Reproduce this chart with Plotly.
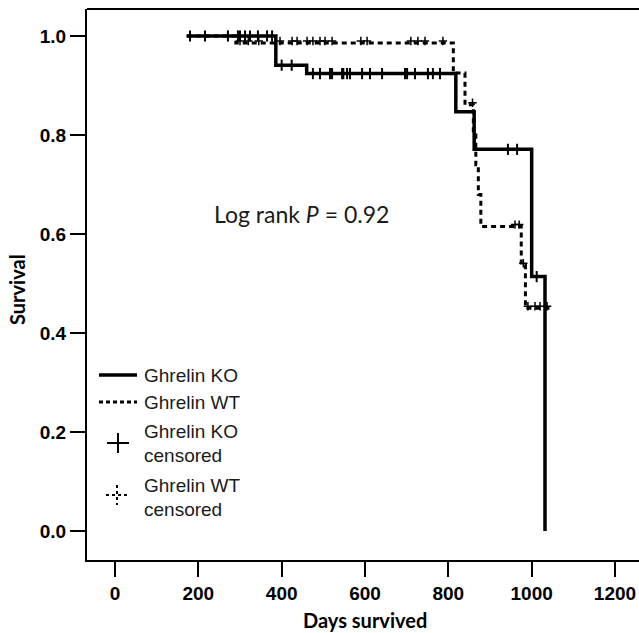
import numpy as np
import plotly.graph_objects as go

# ---------------- data ----------------
ko_times = [172, 386, 460, 818, 862, 1000, 1032]
ko_surv = [1.0, 0.941, 0.924, 0.847, 0.771, 0.514, 0.0]

wt_times = [172, 290, 812, 840, 860, 866, 872, 878, 975, 985, 1044]
wt_surv = [1.0, 0.986, 0.925, 0.861, 0.80, 0.74, 0.68, 0.615, 0.537, 0.45, 0.45]

ko_censor = [180, 216, 271, 295, 300, 312, 324, 343, 365, 377,
             400, 424,
             475, 492, 516, 521, 545, 548, 557, 564, 593, 612, 641, 696, 701, 720, 751, 763, 780,
             943, 965, 1012]
wt_censor = [300, 320, 345, 396, 425, 437, 461, 475, 492, 504, 521, 590, 605, 710, 727, 744, 787,
             858, 960, 970, 980, 991, 1008, 1020, 1037]

x_ticks = [0, 200, 400, 600, 800, 1000, 1200]
y_ticks = [0.0, 0.2, 0.4, 0.6, 0.8, 1.0]
y_tick_labels = ["0.0", "0.2", "0.4", "0.6", "0.8", "1.0"]


def step_value(times, surv, t):
    i = np.searchsorted(np.asarray(times), t, side="right") - 1
    return surv[max(i, 0)]


ko_cy = [step_value(ko_times, ko_surv, t) for t in ko_censor]
wt_cy = [step_value(wt_times, wt_surv, t) for t in wt_censor]

# ---------------- layout geometry (pixels) ----------------
W, H = 639, 633
ML, MR, MT, MB = 87, 0, 9, 73
PW, PH = W - ML - MR, H - MT - MB


def px(xp):
    return (xp - ML) / PW


def py(yp):
    return (H - MB - yp) / PH


fig = go.Figure()

fig.add_trace(go.Scatter(x=wt_times, y=wt_surv, mode="lines", line_shape="hv",
                         line=dict(color="black", width=3, dash="5px,4px"),
                         showlegend=False, hoverinfo="skip"))
fig.add_trace(go.Scatter(x=ko_times, y=ko_surv, mode="lines", line_shape="hv",
                         line=dict(color="black", width=3.5),
                         showlegend=False, hoverinfo="skip"))
fig.add_trace(go.Scatter(x=ko_censor, y=ko_cy, mode="markers",
                         marker=dict(symbol="line-ns", size=8, color="black",
                                     line=dict(color="black", width=2)),
                         showlegend=False, hoverinfo="skip"))
fig.add_trace(go.Scatter(x=wt_censor, y=[v + 0.004 for v in wt_cy], mode="markers",
                         marker=dict(symbol="cross-thin", size=6, color="black",
                                     line=dict(color="black", width=1.5)),
                         showlegend=False, hoverinfo="skip"))

shapes = []
# top border of box
shapes.append(dict(type="line", xref="paper", yref="paper", x0=0, x1=1.01, y0=1, y1=1,
                   line=dict(color="black", width=2)))
# legend samples
shapes.append(dict(type="line", xref="paper", yref="paper", x0=px(99), x1=px(137),
                   y0=py(375), y1=py(375), line=dict(color="black", width=3.5)))
shapes.append(dict(type="line", xref="paper", yref="paper", x0=px(99), x1=px(137),
                   y0=py(402), y1=py(402), line=dict(color="black", width=3, dash="4px,3px")))
shapes.append(dict(type="line", xref="paper", yref="paper", x0=px(107), x1=px(129),
                   y0=py(443), y1=py(443), line=dict(color="black", width=2)))
shapes.append(dict(type="line", xref="paper", yref="paper", x0=px(118), x1=px(118),
                   y0=py(433), y1=py(453), line=dict(color="black", width=2)))
shapes.append(dict(type="line", xref="paper", yref="paper", x0=px(106), x1=px(128),
                   y0=py(495), y1=py(495), line=dict(color="black", width=2, dash="3px,3px")))
shapes.append(dict(type="line", xref="paper", yref="paper", x0=px(117), x1=px(117),
                   y0=py(485), y1=py(505), line=dict(color="black", width=2, dash="3px,3px")))

leg_font = dict(family="Liberation Sans, Arial", size=19, color="#1a1a1a")
annotations = []
for text, yp in [("Ghrelin KO", 375), ("Ghrelin WT", 402), ("Ghrelin KO", 431),
                 ("censored", 455), ("Ghrelin WT", 485), ("censored", 509)]:
    annotations.append(dict(text=text, xref="paper", yref="paper", x=px(142), y=py(yp),
                            xanchor="left", yanchor="middle", showarrow=False, font=leg_font))

annotations.append(dict(text="Log rank <i>P</i> = 0.92", xref="paper", yref="paper",
                        x=px(301), y=py(214), xanchor="center", yanchor="middle",
                        showarrow=False,
                        font=dict(family="Lato, Open Sans", size=23, color="#1a1a1a")))
annotations.append(dict(text="<b>Days survived</b>", xref="paper", yref="paper",
                        x=px(365), y=py(620), xanchor="center", yanchor="middle",
                        showarrow=False,
                        font=dict(family="Lato, Open Sans", size=20, color="black")))
annotations.append(dict(text="<b>Survival</b>", xref="paper", yref="paper",
                        x=px(17), y=py(290), xanchor="center", yanchor="middle",
                        showarrow=False, textangle=-90,
                        font=dict(family="Lato, Open Sans", size=20, color="black")))

fig.update_layout(
    width=W, height=H,
    margin=dict(l=ML, r=MR, t=MT, b=MB, pad=0),
    paper_bgcolor="white", plot_bgcolor="white",
    shapes=shapes, annotations=annotations,
    xaxis=dict(range=[-67.2, 1257.6], tickvals=x_ticks, ticks="outside", ticklen=15,
               tickwidth=2, tickcolor="black", showline=True, linecolor="black", linewidth=2,
               showgrid=False, zeroline=False,
               tickfont=dict(family="Liberation Sans, Arial", size=19, color="black", weight="bold")),
    yaxis=dict(range=[-0.0586, 1.0545], tickvals=y_ticks, ticktext=y_tick_labels,
               ticks="outside", ticklen=15, tickwidth=2, tickcolor="black",
               showline=True, linecolor="black", linewidth=2,
               showgrid=False, zeroline=False,
               tickfont=dict(family="Liberation Sans, Arial", size=19, color="black", weight="bold")),
)

fig.write_html("out.html")
